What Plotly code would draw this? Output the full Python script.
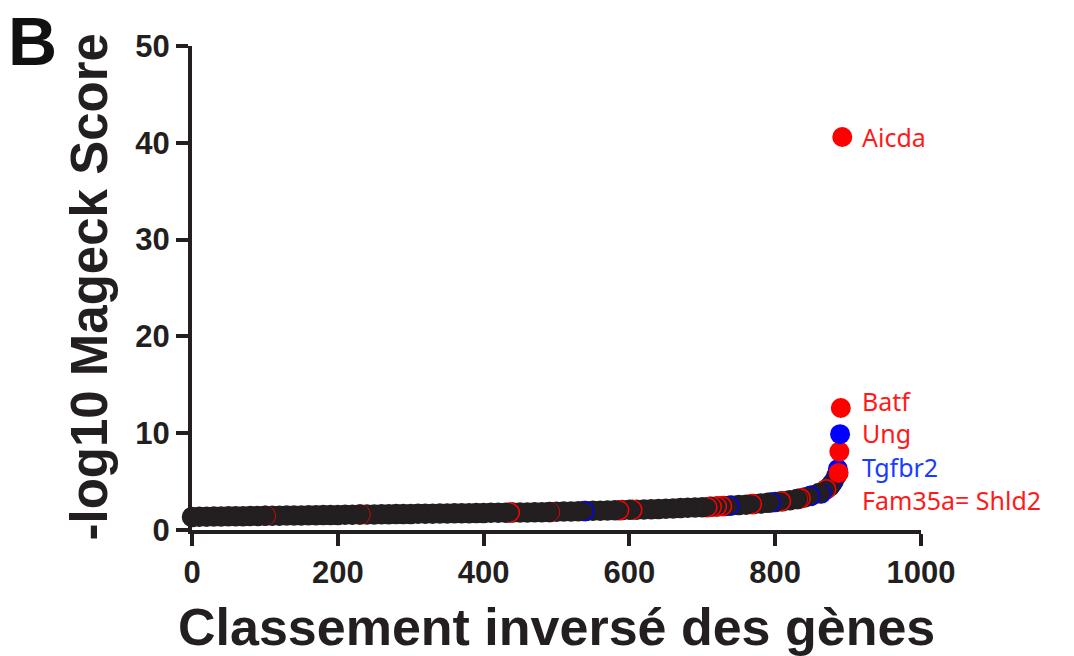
import plotly.graph_objects as go

# Baseline genes (rank -> -log10 MAGeCK score)
base_rank = [0, 10, 20, 30, 40, 50, 60, 70, 80, 90, 100, 110, 120, 130, 140, 150, 160, 170, 180, 190,
             200, 210, 220, 230, 240, 250, 260, 270, 280, 290, 300, 310, 320, 330, 340, 350, 360, 370,
             380, 390, 400, 410, 420, 430, 440, 450, 460, 470, 480, 490, 500, 510, 520, 530, 540, 550,
             560, 570, 580, 590, 600, 610, 620, 630, 640, 650, 660, 670, 680, 690, 700, 710, 720, 730,
             740, 750, 760, 770, 780, 790, 800, 810, 820, 830, 840, 850, 860, 870, 875, 880, 884]
base_score = [1.35, 1.37, 1.38, 1.39, 1.40, 1.41, 1.42, 1.43, 1.44, 1.45, 1.46, 1.47, 1.48, 1.49, 1.50,
              1.51, 1.52, 1.53, 1.54, 1.55, 1.56, 1.57, 1.58, 1.59, 1.60, 1.61, 1.62, 1.63, 1.64, 1.65,
              1.66, 1.67, 1.68, 1.69, 1.70, 1.71, 1.72, 1.73, 1.74, 1.75, 1.76, 1.77, 1.78, 1.79, 1.80,
              1.81, 1.82, 1.83, 1.84, 1.86, 1.88, 1.90, 1.92, 1.94, 1.96, 1.98, 2.00, 2.02, 2.04, 2.06,
              2.08, 2.10, 2.12, 2.14, 2.17, 2.20, 2.23, 2.26, 2.29, 2.32, 2.35, 2.39, 2.43, 2.47, 2.52,
              2.57, 2.62, 2.68, 2.74, 2.81, 2.88, 2.97, 3.07, 3.20, 3.36, 3.56, 3.82, 4.20, 4.50, 5.00, 5.60]

# Genes of interest inside the curve (outlined)
hit_rank = [101, 231, 436, 491, 538, 586, 604, 707, 713, 720, 727, 737, 768, 794, 808, 831, 835, 848, 863, 870, 877]
hit_score = [1.46, 1.59, 1.80, 1.86, 1.96, 2.05, 2.09, 2.36, 2.40, 2.44, 2.47, 2.51, 2.68, 2.84, 2.96, 3.21, 3.27, 3.50, 3.78, 4.20, 4.70]
hit_group = ["r", "r", "r", "r", "b", "r", "r", "r", "r", "r", "r", "b", "r", "b", "r", "r", "r", "b", "b", "r", "b"]

# Top-ranked genes (filled)
top_rank = [886, 887, 888, 889, 890, 892]
top_score = [6.3, 5.9, 8.1, 9.9, 12.6, 40.6]
top_group = ["b", "r", "r", "b", "r", "r"]

# Gene labels
label_text = ["Aicda", "Batf", "Ung", "Tgfbr2", "Fam35a= Shld2"]
label_group = ["r", "r", "r", "b", "r"]
label_y = [40.6, 13.3, 10.0, 6.5, 3.1]

DARK = "#231f20"
PT = {"r": "#ff0000", "b": "#0000ff"}
TXT = {"r": "#ff1a1a", "b": "#1a3cff"}

# merge baseline + hits, draw from right to left so left points lie on top
pts = [(r, s, DARK) for r, s in zip(base_rank, base_score)] + \
      [(r, s, PT[g]) for r, s, g in zip(hit_rank, hit_score, hit_group)]
pts.sort(key=lambda p: -p[0])

fig = go.Figure()
fig.add_trace(go.Scatter(
    x=[p[0] for p in pts], y=[p[1] for p in pts], mode="markers",
    marker=dict(size=19, color=DARK, line=dict(color=[p[2] for p in pts], width=1.5)),
    cliponaxis=False, hoverinfo="skip", showlegend=False))
fig.add_trace(go.Scatter(
    x=top_rank, y=top_score, mode="markers",
    marker=dict(size=20, color=[PT[g] for g in top_group], line=dict(width=0)),
    cliponaxis=False, showlegend=False))

for t, g, y in zip(label_text, label_group, label_y):
    fig.add_annotation(x=916, y=y, xref="x", yref="y", text=t, showarrow=False,
                       xanchor="left", yanchor="middle",
                       font=dict(family="Noto Sans", size=25, color=TXT[g]))

bold = dict(family="Liberation Sans", size=31, color=DARK, weight="bold")
fig.add_annotation(x=-0.14, y=0.503, xref="paper", yref="paper", text="-log10 Mageck Score",
                   textangle=-90, showarrow=False, xanchor="center", yanchor="middle",
                   font=dict(family="Liberation Sans", size=51, color=DARK, weight="bold"))
fig.add_annotation(x=0.5, y=-0.2, xref="paper", yref="paper", text="Classement inversé des gènes",
                   showarrow=False, xanchor="center", yanchor="middle",
                   font=dict(family="Liberation Sans", size=52, color=DARK, weight="bold"))
fig.add_annotation(x=-0.219, y=1.01, xref="paper", yref="paper", text="B",
                   showarrow=False, xanchor="center", yanchor="middle",
                   font=dict(family="Liberation Sans", size=68, color="#111111", weight="bold"))

fig.update_xaxes(range=[0, 1000], tickvals=[0, 200, 400, 600, 800, 1000], showgrid=False, zeroline=False,
                 showline=True, linecolor=DARK, linewidth=4, ticks="outside", ticklen=12, tickwidth=4,
                 tickcolor=DARK, tickfont=bold, automargin=False)
fig.update_yaxes(range=[0, 50], tickvals=[0, 10, 20, 30, 40, 50], showgrid=False, zeroline=False,
                 showline=True, linecolor=DARK, linewidth=4, ticks="outside", ticklen=12, tickwidth=4,
                 tickcolor=DARK, tickfont=bold, automargin=False)
fig.update_layout(width=1074, height=656, margin=dict(l=192, r=153, t=46, b=126),
                  plot_bgcolor="white", paper_bgcolor="white")
fig.write_html("out.html", config={"displayModeBar": False},
               post_script="document.body.style.margin='0';")
